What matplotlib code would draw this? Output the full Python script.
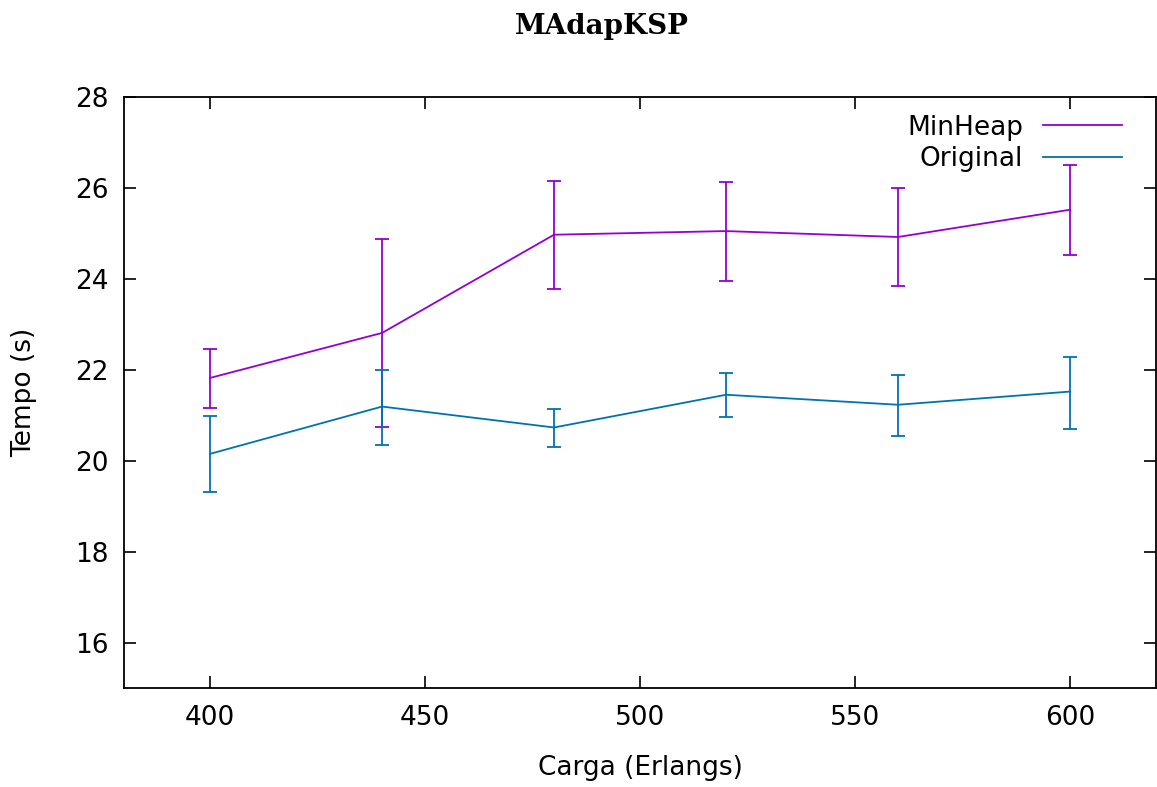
import matplotlib
matplotlib.use('Agg')
import matplotlib.pyplot as plt
from matplotlib.lines import Line2D

# data
carga = [400, 440, 480, 520, 560, 600]

minheap = [21.82, 22.81, 24.97, 25.05, 24.92, 25.52]
minheap_low = [21.16, 20.73, 23.78, 23.96, 23.85, 24.53]
minheap_high = [22.46, 24.88, 26.15, 26.13, 26.00, 26.51]

original = [20.15, 21.19, 20.73, 21.45, 21.23, 21.52]
original_low = [19.32, 20.35, 20.31, 20.97, 20.55, 20.70]
original_high = [20.99, 22.00, 21.14, 21.93, 21.89, 22.29]

xticks = [400, 450, 500, 550, 600]
yticks = [16, 18, 20, 22, 24, 26, 28]

PURPLE = '#9400d3'
BLUE = '#0072b2'
FS = 19


def draw(ax, y, low, high, color):
    err = [[v - l for v, l in zip(y, low)], [h - v for v, h in zip(y, high)]]
    ax.errorbar(carga, y, yerr=err, color=color, lw=1.3, elinewidth=1.3,
                capsize=5, capthick=1.3)


fig = plt.figure(figsize=(11.57, 7.87), dpi=100)
ax = fig.add_axes([0.1072, 0.1258, 0.892, 0.751])

draw(ax, minheap, minheap_low, minheap_high, PURPLE)
draw(ax, original, original_low, original_high, BLUE)

ax.set_xlim(380, 620)
ax.set_ylim(15, 28)
ax.set_xticks(xticks)
ax.set_yticks(yticks)
ax.tick_params(direction='in', length=8.5, width=1.2, labelsize=FS,
               top=True, right=True)
ax.tick_params(axis='x', pad=12)
ax.tick_params(axis='y', pad=11)
for s in ax.spines.values():
    s.set_linewidth(1.3)

ax.set_xlabel('Carga (Erlangs)', fontsize=FS, va='center')
ax.set_ylabel('Tempo (s)', fontsize=FS, va='center')
ax.xaxis.set_label_coords(0.5, -0.135)
ax.yaxis.set_label_coords(-0.097, 0.5)
fig.text(0.52, 0.966, 'MAdapKSP', ha='center', va='center',
         fontsize=20, fontweight='bold', family='DejaVu Serif')

handles = [Line2D([], [], color=PURPLE, lw=1.3), Line2D([], [], color=BLUE, lw=1.3)]
leg = ax.legend(handles, ['MinHeap', 'Original'], loc='upper right',
                bbox_to_anchor=(0.967, 0.970), frameon=False, markerfirst=False,
                fontsize=FS, handlelength=3.0, handletextpad=0.75,
                borderaxespad=0, borderpad=0, labelspacing=0.2)
for t in leg.get_texts():
    t.set_ha('right')

fig.savefig('out.png', dpi=100)
